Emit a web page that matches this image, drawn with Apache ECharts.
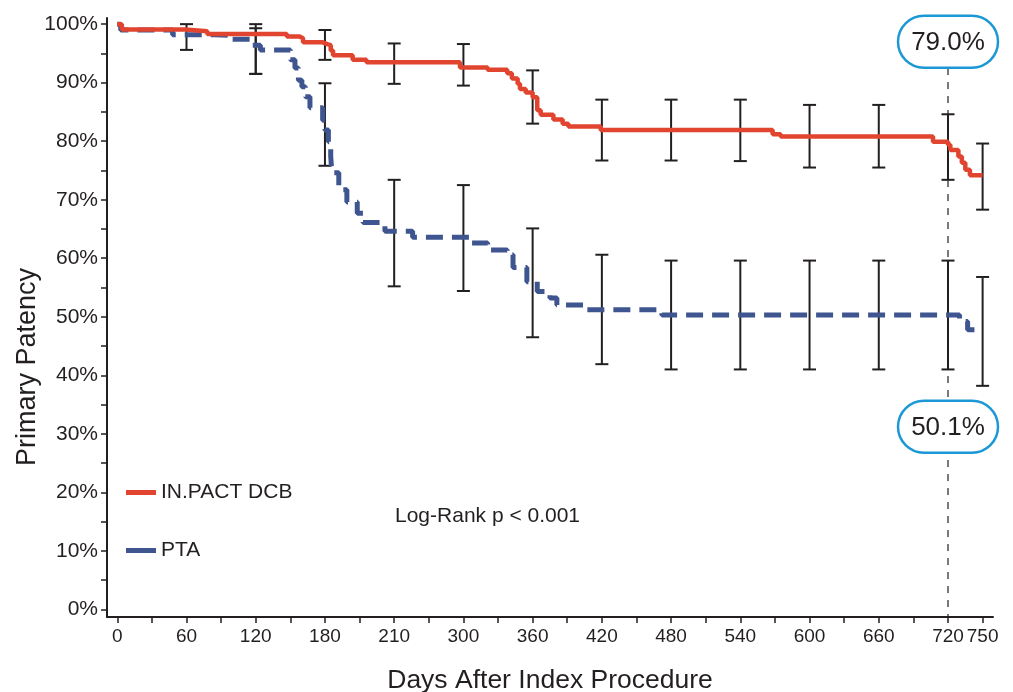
<!DOCTYPE html>
<html>
<head>
<meta charset="utf-8">
<script src="https://cdn.jsdelivr.net/npm/echarts@6/dist/echarts.min.js"></script>
<style>
html,body{margin:0;padding:0;background:#fff;}
#chart{width:1013px;height:692px;}
</style>
</head>
<body>
<div id="chart"></div>
<script>
// ---- Data ----
// Kaplan-Meier step curves: [day, primary patency %]
const dcbCurve = [
  [0,100],[4,99.1],[59,98.8],[78,98.3],[147,97.9],[158,97.6],[161,96.9],[178,96.6],
  [182,96.4],[185,95.5],[187,94.7],[204,93.9],[216,93.5],[297,92.6],[321,92.2],
  [338,91.6],[342,90.7],[347,89.8],[349,88.9],[354,88.3],[360,87.5],[364,85.3],
  [367,84.5],[378,83.7],[386,83.0],[391,82.5],[419,81.9],[568,81.2],[575,80.8],
  [707,79.9],[720,79.4],[722,78.5],[729,77.4],[732,76.3],[735,75.1],[739,74.2],[750,74.2]
];
const ptaCurve = [
  [0,100],[3,99.0],[48,98.2],[85,98.1],[96,97.4],[117,96.4],[124,95.6],[150,93.9],
  [154,92.5],[157,90.4],[160,89.3],[163,87.6],[167,85.7],[178,83.6],[180,81.9],
  [183,79.9],[185,77.4],[186,74.6],[192,71.7],[199,69.6],[208,67.7],[213,66.1],
  [232,64.6],[256,63.6],[307,62.6],[321,61.4],[338,60.6],[343,58.4],[355,56.0],
  [364,54.3],[375,53.2],[381,52.0],[404,51.2],[472,50.3],[730,49.2],[737,47.8],[750,47.8]
];
// Confidence-interval bars: [day, upper %, lower %]
const dcbBars = [
  [120,100,91.5],[180,99.0,93.9],[240,96.7,89.8],[300,96.6,89.5],[360,92.1,83.0],
  [420,87.1,76.7],[480,87.1,76.7],[540,87.1,76.6],[600,86.2,75.5],[660,86.2,75.5],
  [720,84.6,73.4],[750,79.6,68.3]
];
const ptaBars = [
  [60,100,95.6],[120,99.3,91.5],[180,89.9,75.8],[240,73.4,55.2],[300,72.5,54.4],
  [360,65.1,46.5],[420,60.6,41.9],[480,59.6,41.0],[540,59.6,41.0],[600,59.6,41.0],
  [660,59.6,41.0],[720,59.6,41.0],[750,56.8,38.2]
];
// Axis ticks/labels
const xTickValues = [0,30,60,90,120,150,180,210,240,270,300,330,360,390,420,450,480,510,540,570,600,630,660,690,720,750];
const xLabelValues = [0,60,120,180,240,300,360,420,480,540,600,660,720,750];
const xLabelTexts  = ['0','60','120','180','210','300','360','420','480','540','600','660','720','750'];
const yTickValues = [0,5,10,15,20,25,30,35,40,45,50,55,60,65,70,75,80,85,90,95,100];
const yLabelValues = [0,10,20,30,40,50,60,70,80,90,100];
// Annotations at 720 days
const annotDay = 720;
const annotations = [
  {text:'79.0%', at: 97.0},
  {text:'50.1%', at: 31.2}
];
const seriesNames = ['IN.PACT DCB','PTA'];

// ---- Chart ----
const RED = '#e2452f', BLUE = '#3f5590', INK = '#231f20', BOXC = '#1b98d5';
const FONT = 'Liberation Sans, Arial, Helvetica, sans-serif';
const chart = echarts.init(document.getElementById('chart'), null, {renderer:'canvas'});

function barRender(params, api){
  const x = api.value(0);
  const pH = api.coord([x, api.value(1)]);
  const pL = api.coord([x, api.value(2)]);
  const hw = 6.5;
  const st = {stroke: INK, lineWidth: 2};
  return {type:'group', children:[
    {type:'line', shape:{x1:pH[0],y1:pH[1],x2:pL[0],y2:pL[1]}, style:st},
    {type:'line', shape:{x1:pH[0]-hw,y1:pH[1],x2:pH[0]+hw,y2:pH[1]}, style:st},
    {type:'line', shape:{x1:pL[0]-hw,y1:pL[1],x2:pL[0]+hw,y2:pL[1]}, style:st}
  ]};
}
function boxRender(params, api){
  const c = api.coord([annotDay, api.value(0)]);
  const w = 100, h = 52;
  return {type:'group', children:[
    {type:'rect', shape:{x:c[0]-w/2, y:c[1]-h/2, width:w, height:h, r:h/2},
     style:{fill:'#fff', stroke:BOXC, lineWidth:2.5}},
    {type:'text', style:{text: annotations[params.dataIndex].text, x:c[0], y:c[1]+1,
      align:'center', verticalAlign:'middle', fill:INK, font:'26px ' + FONT}}
  ]};
}

const option = {
  animation:false,
  backgroundColor:'#fff',
  textStyle:{fontFamily:FONT},
  grid:{left:107, right:20, top:18, bottom:75, containLabel:false, outerBoundsMode:'none'},
  legend:{
    data: seriesNames.map((n,i)=>({name:n, icon:'rect',
      itemStyle:{color: i===0?RED:BLUE, borderWidth:0},
      lineStyle:{type:'solid', width:0}})),
    orient:'vertical', left:126, top:482, padding:0, itemWidth:30, itemHeight:5, itemGap:37,
    textStyle:{fontSize:21, color:INK, fontFamily:FONT}
  },
  graphic:[
    {type:'text', left:395, top:506, style:{text:'Log-Rank p < 0.001', fill:INK, font:'21px ' + FONT}},
    {type:'text', x:28, y:367, rotation:Math.PI/2,
      style:{text:'Primary Patency', fill:INK, font:'27px ' + FONT, align:'center', verticalAlign:'middle'}}
  ],
  xAxis:{
    type:'value', min:-8.9, max:759,
    name:'Days After Index Procedure', nameLocation:'middle', nameGap:50,
    nameTextStyle:{fontSize:26.5, color:INK, fontFamily:FONT},
    axisLine:{show:true, onZero:false, lineStyle:{color:INK, width:2}},
    axisTick:{show:true, length:6, lineStyle:{color:INK, width:1.5}, customValues:xTickValues},
    axisLabel:{show:true, fontSize:19, color:INK, margin:10, fontFamily:FONT,
      customValues:xLabelValues, hideOverlap:false,
      formatter:(v)=>{const i=xLabelValues.indexOf(Math.round(v)); return i>=0?xLabelTexts[i]:'';}},
    splitLine:{show:false}
  },
  yAxis:{
    type:'value', min:-1.3, max:101.05,
    axisLine:{show:true, onZero:false, lineStyle:{color:INK, width:2}},
    axisTick:{show:true, length:6, lineStyle:{color:INK, width:1.5}, customValues:yTickValues},
    axisLabel:{show:true, fontSize:21, color:INK, margin:9, fontFamily:FONT,
      customValues:yLabelValues, formatter:(v)=>Math.round(v)+'%'},
    splitLine:{show:false}
  },
  series:[
    {type:'custom', name:'dcbCI', data:dcbBars, renderItem:barRender, z:2, silent:true},
    {type:'custom', name:'ptaCI', data:ptaBars, renderItem:barRender, z:2, silent:true},
    {type:'line', name:'ref720', data:[[annotDay,92.5],[annotDay,-1.3]], symbol:'none', z:1,
      lineStyle:{color:INK, width:1.2, type:[7,7]}},
    {type:'line', name:seriesNames[1], data:ptaCurve, step:'end', symbol:'none', z:4,
      lineStyle:{color:BLUE, width:5, type:[17,9], cap:'butt'}, itemStyle:{color:BLUE}},
    {type:'line', name:seriesNames[0], data:dcbCurve, step:'end', symbol:'none', z:5,
      lineStyle:{color:RED, width:4.5}, itemStyle:{color:RED}},
    {type:'custom', name:'annot', data:annotations.map(a=>[a.at]), renderItem:boxRender, z:10, silent:true,
      encode:{y:0}}
  ]
};
chart.setOption(option);
</script>
</body>
</html>
